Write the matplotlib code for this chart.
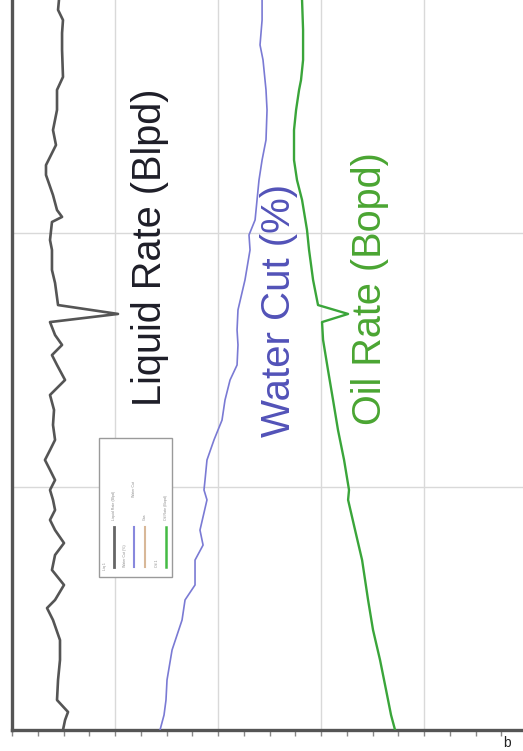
import matplotlib
matplotlib.use("Agg")
import matplotlib.pyplot as plt
from matplotlib.patches import Rectangle
from matplotlib.lines import Line2D

plt.rcParams['font.family'] = ['Liberation Sans', 'DejaVu Sans']

# time axis (days) and rates; plotted rotated: time runs up the page
liq_t = [4.3, 8.2, 11.4, 16.1, 24.0, 31.9, 39.7, 47.6, 52.3, 55.5, 61.4, 67.3, 73.2, 77.9,
         83.0, 87.0, 90.9, 94.9, 98.8, 102.7, 106.7, 110.6, 114.5, 118.5, 124.4, 130.3,
         136.2, 142.1, 148.0, 151.9, 155.9, 159.8, 164.9, 168.1, 171.6, 180.3, 185.4,
         193.3, 197.2, 204.3, 206.3, 209.0, 214.9, 222.8, 226.7, 234.6, 240.5, 248.4,
         256.3, 261.4, 272.0, 278.7, 283.8, 287.8, 291.7]
liq_v = [49.5, 51.5, 54.4, 43.7, 44.7, 46.6, 46.6, 39.8, 34.0, 41.8, 50.5, 38.8, 41.8, 50.5,
         41.8, 36.9, 41.8, 39.8, 36.9, 41.8, 36.9, 32.0, 36.9, 41.8, 39.8, 40.8,
         36.9, 51.5, 43.7, 38.8, 48.6, 41.8, 36.9, 102.9, 44.7, 41.8, 38.8,
         38.8, 36.9, 38.8, 48.6, 43.7, 39.8, 33.0, 33.0, 42.7, 39.8, 43.7,
         43.7, 49.5, 48.6, 48.6, 49.5, 44.7, 45.6]

wc_t = [4.3, 10.2, 16.1, 24.0, 35.8, 47.6, 55.5, 61.4, 71.2, 77.1, 83.0, 94.9, 98.8, 102.7,
        110.6, 118.5, 126.3, 134.2, 142.1, 148.0, 155.9, 161.8, 169.7, 181.5, 193.3, 199.2,
        205.1, 213.0, 220.8, 228.7, 236.6, 248.4, 256.3, 268.1, 274.0, 283.8, 291.7]
wc_v = [143.7, 147.6, 149.5, 150.5, 155.4, 165.1, 168.0, 177.7, 177.7, 185.5, 182.5, 189.3,
        186.4, 187.4, 189.3, 196.1, 203.9, 206.8, 211.7, 218.5, 219.4, 218.5, 219.4, 226.2,
        231.1, 230.1, 236.0, 237.9, 239.8, 242.8, 246.6, 247.6, 246.6, 243.7, 240.8, 242.8,
        242.8]

oil_t = [4.3, 10.2, 20.0, 31.9, 43.7, 55.5, 71.2, 83.0, 94.9, 98.8, 110.6, 122.4, 134.2,
         146.0, 157.9, 164.9, 168.1, 171.6, 181.5, 193.3, 201.2, 213.0, 220.8, 228.7,
         240.5, 248.4, 256.3, 260.2, 268.1, 279.9, 291.7]
oil_v = [371.9, 368.0, 363.2, 357.3, 350.5, 345.7, 339.9, 333.1, 326.3, 327.2, 322.4, 316.5,
         311.7, 306.8, 302.0, 301.0, 326.3, 297.1, 292.3, 288.4, 286.4, 281.6, 276.7, 273.8,
         273.8, 275.8, 278.7, 280.6, 282.6, 282.6, 281.6]

labels = ["Liquid Rate (Blpd)", "Water Cut (%)", "Oil Rate (Bopd)"]

W, H = 523, 751
fig = plt.figure(figsize=(W / 100, H / 100), dpi=100)
ax = fig.add_axes([12 / W, (H - 730) / H, 620 * 1.03 / W, 730 / H])
ax.set_xlim(0, 620)
ax.set_ylim(4.3, 291.7)

ax.plot(liq_v, liq_t, color='#555555', lw=1.9, zorder=3)
ax.plot(wc_v, wc_t, color='#7a7ad4', lw=1.2, zorder=3)
ax.plot(oil_v, oil_t, color='#3aa53a', lw=1.7, zorder=3)

ax.set_xticks([0, 100, 200, 300, 400, 500, 600])
ax.set_xticks([v * 25 for v in range(25)], minor=True)
ax.set_yticks([100, 200])
ax.grid(True, which='major', color='#d9d9d9', lw=1)
ax.tick_params(axis='x', which='both', direction='out', length=4, width=1,
               color='#888888', labelbottom=False)
ax.tick_params(axis='y', length=0, labelleft=False)
for s in ['top', 'right']:
    ax.spines[s].set_visible(False)
for s in ['left', 'bottom']:
    ax.spines[s].set_color('#555555')
    ax.spines[s].set_linewidth(2.4)


def fp(px, py):
    return (px / W, 1 - py / H)


# rotated labels
fig.text(*fp(150, 247), labels[0], rotation=90, ha='center', va='center',
         fontsize=28.6, color='#1e1e28')
fig.text(*fp(279, 310), labels[1], rotation=90, ha='center', va='center',
         fontsize=29, color='#5252b8')
fig.text(*fp(370, 289), labels[2], rotation=90, ha='center', va='center',
         fontsize=28.5, color='#4aa532')

# rotated legend box
x0, y0 = fp(99, 577)
x1, y1 = fp(172, 438)
fig.patches.append(Rectangle((x0, y0), x1 - x0, y1 - y0, transform=fig.transFigure,
                             facecolor='white', edgecolor='#9a9a9a', lw=1, zorder=5))
for px, col, lw in [(114, '#666666', 2.0), (134, '#8888dd', 1.5),
                    (145, '#d8b898', 1.5), (166, '#44bb44', 1.8)]:
    a = fp(px, 567)
    b = fp(px, 527)
    fig.lines.append(Line2D([a[0], b[0]], [a[1], b[1]], transform=fig.transFigure,
                            color=col, lw=lw, zorder=6))
for px, py, txt in [(105, 570, "Liq 1"), (114, 520, "Liquid Rate (Blpd)"),
                    (125, 567, "Water Cut (%)"), (134, 497, "Water Cut"),
                    (145, 520, "Gas"), (157, 567, "Oil 1"), (166, 520, "Oil Rate (Bopd)")]:
    fig.text(*fp(px, py), txt, rotation=90, ha='center', va='bottom',
             fontsize=2.6, color='#8a8a8a', zorder=7)

fig.text(*fp(503, 750), "b", ha='left', va='bottom', fontsize=10, color='#222222')

fig.savefig("out.png", dpi=100)
